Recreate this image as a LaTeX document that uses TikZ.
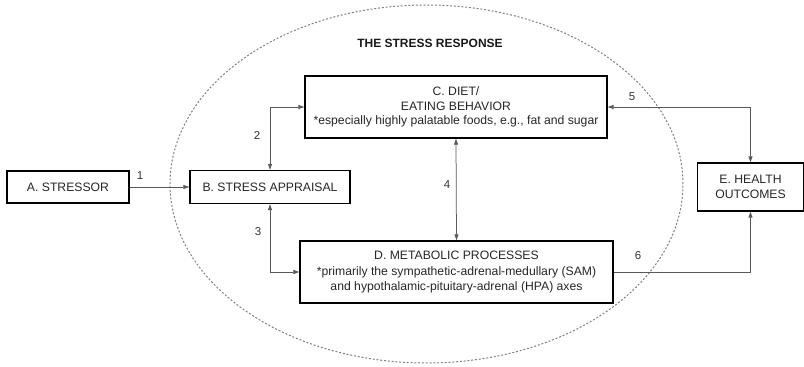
\documentclass[tikz,border=0pt]{standalone}
\usepackage{fontspec}
\setmainfont{Liberation Sans}
\usetikzlibrary{arrows.meta}

\begin{document}
\begin{tikzpicture}[x=1pt,y=1pt,
  box/.style={draw=black, line width=1.4pt, align=center, inner sep=0pt,
    font=\fontsize{12.2}{14.5}\selectfont, text=black!85},
  link/.style={draw=black!65, line width=0.75pt},
  onetip/.style={-{Triangle[length=6pt,width=4pt]}},
  twotips/.style={{Triangle[length=6pt,width=4pt]}-{Triangle[length=6pt,width=4pt]}},
  lbl/.style={font=\fontsize{11.5}{13}\selectfont, text=black!80, inner sep=0pt},
  boundary/.style={draw=black!50, line width=1pt, dash pattern=on 2pt off 1.8pt}
]
\useasboundingbox (0,0) rectangle (804,367);

% the stress response region
\draw[boundary] (426.5,183) ellipse [x radius=256.5, y radius=179];
\node[font=\bfseries\fontsize{12}{14}\selectfont, text=black!90] (title) at (430,324) {THE STRESS RESPONSE};

% boxes
\node[box, minimum width=122, minimum height=32] (A) at (68,180) {A. STRESSOR};
\node[box, minimum width=160, minimum height=33] (B) at (270,180) {B. STRESS APPRAISAL};
\node[box, minimum width=302, minimum height=62] (C) at (456,260)
  {C. DIET/\\EATING BEHAVIOR\\*especially highly palatable foods, e.g., fat and sugar};
\node[box, minimum width=313, minimum height=62] (D) at (456.5,95)
  {D. METABOLIC PROCESSES\\[2pt]*primarily the sympathetic-adrenal-medullary (SAM)\\and hypothalamic-pituitary-adrenal (HPA) axes};
\node[box, minimum width=106, minimum height=48] (E) at (750.5,180) {E. HEALTH\\OUTCOMES};

% connectors
\draw[link, onetip] (A.east) -- (B.west);
\draw[link, twotips] (B.north) |- (C.west);
\draw[link, twotips] (B.south) |- (D.west);
\draw[link, twotips] (C.south) -- (D.north);
\draw[link, twotips] (C.east) -| (E.north);
\draw[link, onetip] (D.east) -| (E.south);

% connector numbers
\node[lbl] (n1) at (140,191) {1};
\node[lbl] (n2) at (257,232) {2};
\node[lbl] (n3) at (258,135) {3};
\node[lbl] (n4) at (447,182) {4};
\node[lbl] (n5) at (632,270) {5};
\node[lbl] (n6) at (638,111) {6};
\end{tikzpicture}
\end{document}
